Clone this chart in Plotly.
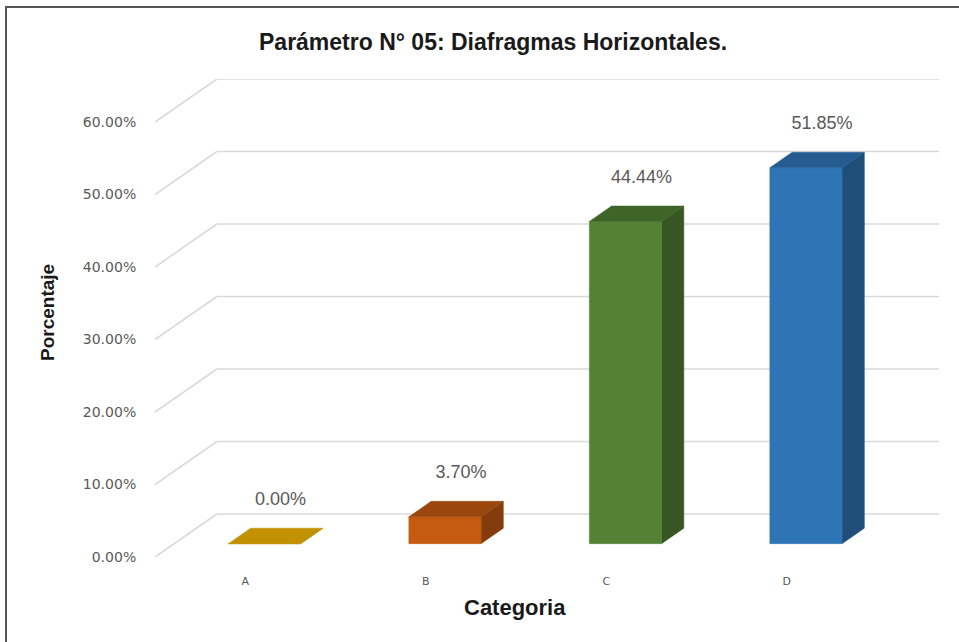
import plotly.graph_objects as go

# Chart data
categories = ["A", "B", "C", "D"]
values = [0.00, 3.70, 44.44, 51.85]
y_ticks = [0, 10, 20, 30, 40, 50, 60]
front_colors = ["#BF9000", "#C55A11", "#548235", "#2E75B6"]
top_colors = ["#C29100", "#9A460D", "#3F6428", "#245C91"]
side_colors = ["#8F6C00", "#843C0C", "#375623", "#1F4E79"]

# Oblique projection: a full step in depth moves (KX categories, KY percent)
KX = 0.343
KY = 5.93
D0, DD = 0.31, 0.36        # bar starts at this depth and is DD deep
BAR_W = 0.40
PX_X = 180.5               # pixels per category
PX_Y = 7.25                # pixels per percent

W, H = 959, 642
ML, MR, MT, MB = 155, 19, 79, 85
PW, PH = W - ML - MR, H - MT - MB
x_lo = -0.5
x_hi = x_lo + PW / PX_X
y_hi = PH / PX_Y

fig = go.Figure()
n = len(categories)
shapes = []

# Side wall and back wall grid lines, kept beneath the bars
for v in y_ticks:
    pts = [(x_lo, v), (x_lo + KX, v + KY), (n - 0.5 + KX, v + KY)]
    for (xa, ya), (xb, yb) in zip(pts[:-1], pts[1:]):
        shapes.append(dict(type="line", xref="x", yref="y",
                           x0=xa, y0=ya, x1=xb, y1=yb, layer="below",
                           line=dict(color="#D9D9D9", width=1.6)))

# Bars: front, side and top faces as filled polygons
for i, (cat, v) in enumerate(zip(categories, values)):
    cx = i + KX * D0
    base = KY * D0
    x0, x1 = cx - BAR_W / 2, cx + BAR_W / 2
    top = base + v
    dx, dy = KX * DD, KY * DD
    faces = [
        ([x1, x1, x1 + dx, x1 + dx, x1], [base, top, top + dy, base + dy, base], side_colors[i]),
        ([x0, x1, x1, x0, x0], [base, base, top, top, base], front_colors[i]),
        ([x0, x1, x1 + dx, x0 + dx, x0], [top, top, top + dy, top + dy, top], top_colors[i]),
    ]
    for fx, fy, col in faces:
        fig.add_trace(go.Scatter(
            x=fx, y=fy, mode="lines", fill="toself", fillcolor=col,
            line=dict(color=col, width=0.5), name=cat,
            hoverinfo="skip", showlegend=False))

# Value labels above each bar
fig.add_trace(go.Scatter(
    x=[i + 0.195 for i in range(n)],
    y=[v + 7.8 for v in values],
    text=[f"{v:.2f}%" for v in values],
    mode="text", textposition="middle center",
    textfont=dict(family="Liberation Sans, Arial, sans-serif", size=18, color="#595959"),
    hoverinfo="skip", showlegend=False))

# Outer frame of the chart area
shapes.append(dict(type="rect", xref="paper", yref="paper",
                   x0=(6 - ML) / PW, x1=(W + 10 - ML) / PW,
                   y0=-(H + 10 - (H - MB)) / PH, y1=1 + (MT - 7) / PH,
                   line=dict(color="#555555", width=2),
                   fillcolor="rgba(0,0,0,0)", layer="below"))

bold = "Liberation Sans, Arial, sans-serif"
fig.update_layout(
    width=W, height=H,
    margin=dict(l=ML, r=MR, t=MT, b=MB),
    paper_bgcolor="white", plot_bgcolor="white",
    xaxis=dict(
        range=[x_lo, x_hi], showgrid=False, zeroline=False, showline=False,
        tickmode="array", tickvals=list(range(n)), ticktext=categories,
        ticks="outside", ticklen=14, tickcolor="rgba(0,0,0,0)",
        tickfont=dict(family="DejaVu Sans, sans-serif", size=11, color="#595959"),
        fixedrange=True),
    yaxis=dict(
        range=[0, y_hi], showgrid=False, zeroline=False, showline=False,
        tickmode="array", tickvals=y_ticks,
        ticktext=[f"{t:.2f}%" for t in y_ticks],
        ticks="outside", ticklen=15, tickcolor="rgba(0,0,0,0)",
        tickfont=dict(family="DejaVu Sans, sans-serif", size=14, color="#595959"),
        fixedrange=True),
    annotations=[
        dict(text="<b>Parámetro N° 05: Diafragmas Horizontales.</b>",
             xref="paper", yref="paper",
             x=(493 - ML) / PW, y=1 + (MT - 42) / PH,
             xanchor="center", yanchor="middle", showarrow=False,
             font=dict(family=bold, size=23, color="#1a1a1a")),
        dict(text="<b>Porcentaje</b>", textangle=-90,
             xref="paper", yref="paper",
             x=(47 - ML) / PW, y=(H - MB - 313) / PH,
             xanchor="center", yanchor="middle", showarrow=False,
             font=dict(family=bold, size=19, color="#1a1a1a")),
        dict(text="<b>Categoria</b>",
             xref="paper", yref="paper",
             x=(515 - ML) / PW, y=-(607 - (H - MB)) / PH,
             xanchor="center", yanchor="middle", showarrow=False,
             font=dict(family=bold, size=22, color="#1a1a1a")),
    ],
    shapes=shapes,
)

fig.write_html("out.html")
